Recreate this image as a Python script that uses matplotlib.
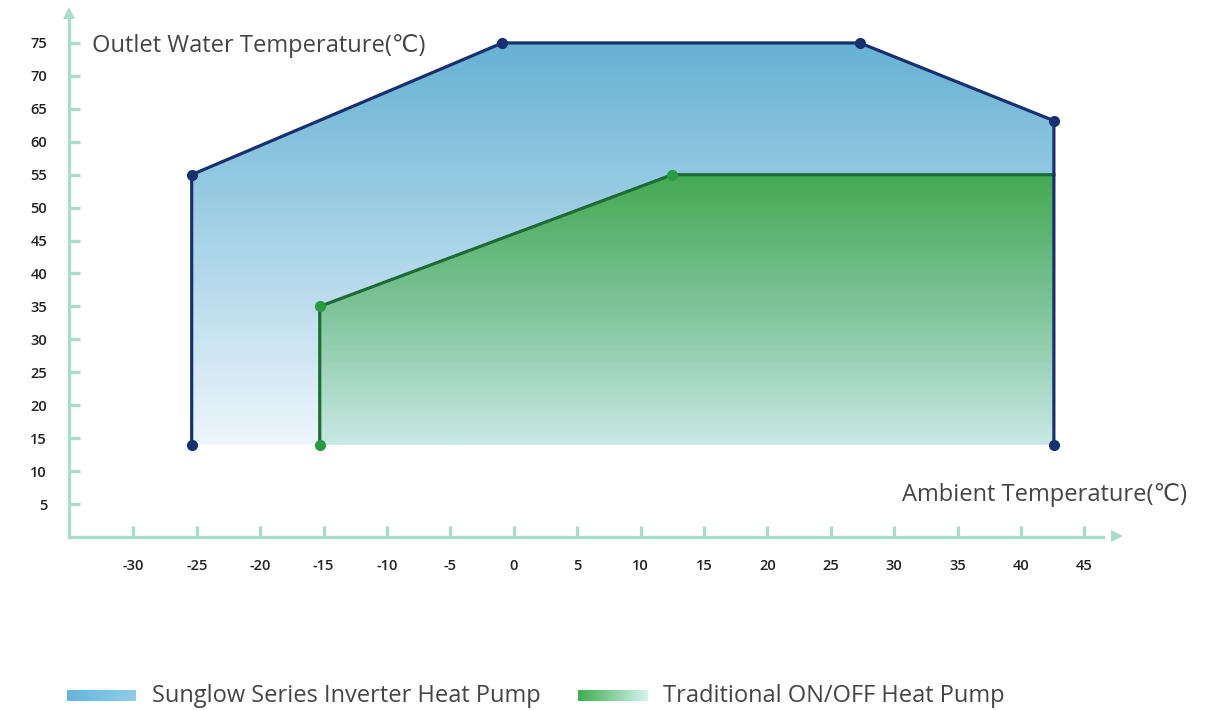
import numpy as np
import matplotlib
matplotlib.use("Agg")
import matplotlib.pyplot as plt
from matplotlib.colors import LinearSegmentedColormap
from matplotlib.patches import Polygon

plt.rcParams['font.family'] = ['Open Sans', 'DejaVu Sans']
plt.rcParams['axes.unicode_minus'] = False

# ---- data ----
x_ticks = [-30, -25, -20, -15, -10, -5, 0, 5, 10, 15, 20, 25, 30, 35, 40, 45]
y_ticks = [5, 10, 15, 20, 25, 30, 35, 40, 45, 50, 55, 60, 65, 70, 75]

inv_x = [-25.4, -25.4, -0.9, 27.3, 42.6, 42.6]
inv_y = [14, 55, 75, 75, 63.2, 14]

trad_x = [-15.3, -15.3, 12.5, 42.6, 42.6]
trad_y = [14, 35, 55, 55, 14]

inv_label = "Sunglow Series Inverter Heat Pump"
trad_label = "Traditional ON/OFF Heat Pump"

AX_COL = "#a9dccb"
BLUE_LINE = "#17306f"
GREEN_LINE = "#1f6b35"
GREEN_DOT = "#2a9b42"
TXT = "#454545"

fig = plt.figure(figsize=(12.29, 7.10), dpi=100)
ax = fig.add_axes([0.0564, 0.2437, 0.8527, 0.7422])

# gradient fills clipped to polygons
blue_cmap = LinearSegmentedColormap.from_list("b", ["#eef6fb", "#a9d4e8", "#66b1d3"])
green_cmap = LinearSegmentedColormap.from_list("g", ["#c9e9e5", "#7fc49b", "#44a952"])

def grad_fill(xs, ys, cmap, z):
    poly = Polygon(np.column_stack([xs, ys]), closed=True, facecolor="none",
                   edgecolor="none")
    ax.add_patch(poly)
    grad = np.linspace(0, 1, 256).reshape(-1, 1)
    im = ax.imshow(grad, cmap=cmap, origin="lower", aspect="auto",
                   extent=[min(xs), max(xs), min(ys), max(ys)], zorder=z,
                   interpolation="bilinear")
    im.set_clip_path(poly)

grad_fill(inv_x, inv_y, blue_cmap, 1)
grad_fill(trad_x, trad_y, green_cmap, 2)
ax.set_xlim(-35.05, 47.6)
ax.set_ylim(0, 80)

ax.plot(trad_x[:4], trad_y[:4], color=GREEN_LINE, lw=2.3, zorder=3)
ax.plot(inv_x, inv_y, color=BLUE_LINE, lw=2.3, zorder=4, solid_joinstyle="round")
ax.plot(trad_x[:3], trad_y[:3], "o", color=GREEN_DOT, ms=7, zorder=5)
ax.plot(inv_x, inv_y, "o", color=BLUE_LINE, ms=7, zorder=6)

# axes styling
for s in ["top", "right"]:
    ax.spines[s].set_visible(False)
for s in ["left", "bottom"]:
    ax.spines[s].set_color(AX_COL)
    ax.spines[s].set_linewidth(2.4)
ax.spines["bottom"].set_bounds(-35.05, 46.5)
ax.spines["left"].set_bounds(0, 78.5)
ax.plot([47.6], [0.15], marker=">", color=AX_COL, ms=9, clip_on=False, zorder=7,
        markeredgewidth=0)
ax.plot([-35.05], [79.5], marker="^", color=AX_COL, ms=9, clip_on=False,
        zorder=7, markeredgewidth=0)

ax.set_xticks(x_ticks)
ax.set_yticks(y_ticks)
ax.tick_params(axis="both", direction="in", color=AX_COL, width=2.4, length=8,
               labelsize=10.5, labelcolor="#222222")
ax.tick_params(axis="x", pad=16)
ax.tick_params(axis="y", pad=16)
for lab in ax.get_xticklabels() + ax.get_yticklabels():
    lab.set_fontweight("semibold")

ax.text(-33.3, 74.6, "Outlet Water Temperature(℃)", fontsize=17, color=TXT,
        va="center", ha="left")
ax.text(53.1, 6.3, "Ambient Temperature(℃)", fontsize=17, color=TXT,
        va="center", ha="right", clip_on=False)

# legend with gradient swatches
def swatch(x0, x1, colors):
    sax = fig.add_axes([x0 / 1229, 1 - 701 / 710, (x1 - x0) / 1229, 11 / 710])
    cm = LinearSegmentedColormap.from_list("s", colors)
    sax.imshow(np.linspace(0, 1, 128).reshape(1, -1), cmap=cm, aspect="auto")
    sax.axis("off")

swatch(67, 136, ["#66b6dc", "#8fcdea"])
swatch(578, 648, ["#3ead4f", "#d4f5ee"])
fig.text(152 / 1229, 1 - 696 / 710, inv_label, fontsize=17, color=TXT,
         va="center", ha="left")
fig.text(663 / 1229, 1 - 696 / 710, trad_label, fontsize=17, color=TXT,
         va="center", ha="left")

fig.savefig("out.png", dpi=100)
